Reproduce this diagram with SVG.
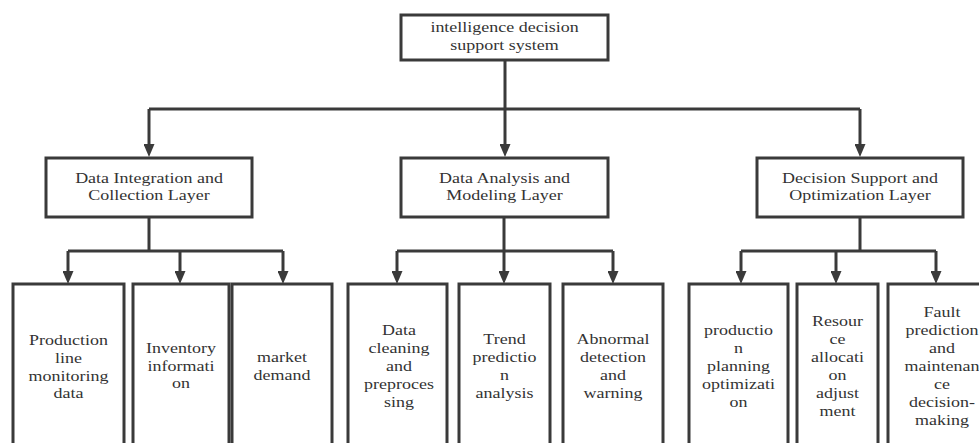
<svg xmlns="http://www.w3.org/2000/svg" width="979" height="443" viewBox="0 0 979 443">
<defs>
<style>
.box{fill:#fff;stroke:#3a3a3a;stroke-width:3}
.t{font-family:"Liberation Serif","Times New Roman",serif;font-size:14.5px;fill:#333;text-anchor:middle}
.c{fill:none;stroke:#3a3a3a;stroke-width:3}
</style>
<marker id="ah" viewBox="0 0 13 11" refX="7" refY="5.5" markerWidth="13" markerHeight="11" markerUnits="userSpaceOnUse" orient="auto">
<path d="M0,0 L13,5.5 L0,11 z" fill="#3a3a3a"/>
</marker>
</defs>
<rect width="979" height="443" fill="#fff"/>
<g id="connectors">
<path class="c" d="M505,60 V109 M149,109 H860"/>
<path class="c" d="M149,109 V151" marker-end="url(#ah)"/>
<path class="c" d="M505,109 V151" marker-end="url(#ah)"/>
<path class="c" d="M860,109 V151" marker-end="url(#ah)"/>
<path class="c" d="M149,217 V251 M68,251 H283"/>
<path class="c" d="M68,251 V278" marker-end="url(#ah)"/>
<path class="c" d="M180,251 V278" marker-end="url(#ah)"/>
<path class="c" d="M283,251 V278" marker-end="url(#ah)"/>
<path class="c" d="M504,217 V251 M397,251 H613"/>
<path class="c" d="M397,251 V278" marker-end="url(#ah)"/>
<path class="c" d="M504,251 V278" marker-end="url(#ah)"/>
<path class="c" d="M613,251 V278" marker-end="url(#ah)"/>
<path class="c" d="M860,217 V251 M741,251 H936"/>
<path class="c" d="M741,251 V278" marker-end="url(#ah)"/>
<path class="c" d="M836,251 V278" marker-end="url(#ah)"/>
<path class="c" d="M936,251 V278" marker-end="url(#ah)"/>
</g>
<g id="root">
<rect class="box" x="401" y="15" width="207" height="45"/>
<text class="t" transform="translate(504.5 0) scale(1.24 1)"><tspan x="0" y="32">intelligence decision</tspan><tspan x="0" y="50.5">support system</tspan></text>
</g>
<g id="layer1">
<rect class="box" x="46" y="158" width="206" height="59"/>
<text class="t" transform="translate(149 0) scale(1.24 1)"><tspan x="0" y="183">Data Integration and</tspan><tspan x="0" y="200.5">Collection Layer</tspan></text>
</g>
<g id="layer2">
<rect class="box" x="401" y="158" width="207" height="59"/>
<text class="t" transform="translate(504.5 0) scale(1.24 1)"><tspan x="0" y="183">Data Analysis and</tspan><tspan x="0" y="200.5">Modeling Layer</tspan></text>
</g>
<g id="layer3">
<rect class="box" x="757" y="158" width="206" height="59"/>
<text class="t" transform="translate(860 0) scale(1.24 1)"><tspan x="0" y="183">Decision Support and</tspan><tspan x="0" y="200.5">Optimization Layer</tspan></text>
</g>
<g id="n1">
<rect class="box" x="13" y="284" width="111" height="200"/>
<text class="t" transform="translate(68.5 0) scale(1.24 1)"><tspan x="0" y="345">Production</tspan><tspan x="0" y="363">line</tspan><tspan x="0" y="381">monitoring</tspan><tspan x="0" y="398.5">data</tspan></text>
</g>
<g id="n2">
<rect class="box" x="133" y="284" width="96" height="200"/>
<text class="t" transform="translate(181 0) scale(1.24 1)"><tspan x="0" y="353">Inventory</tspan><tspan x="0" y="371">informati</tspan><tspan x="0" y="388.5">on</tspan></text>
</g>
<g id="n3">
<rect class="box" x="232" y="284" width="100" height="200"/>
<text class="t" transform="translate(282 0) scale(1.24 1)"><tspan x="0" y="362">market</tspan><tspan x="0" y="380">demand</tspan></text>
</g>
<g id="n4">
<rect class="box" x="348" y="284" width="99" height="200"/>
<text class="t" transform="translate(399 0) scale(1.24 1)"><tspan x="0" y="335">Data</tspan><tspan x="0" y="353">cleaning</tspan><tspan x="0" y="371">and</tspan><tspan x="0" y="389">preproces</tspan><tspan x="0" y="407">sing</tspan></text>
</g>
<g id="n5">
<rect class="box" x="459" y="284" width="91" height="200"/>
<text class="t" transform="translate(504.5 0) scale(1.24 1)"><tspan x="0" y="344">Trend</tspan><tspan x="0" y="362">predictio</tspan><tspan x="0" y="380">n</tspan><tspan x="0" y="398">analysis</tspan></text>
</g>
<g id="n6">
<rect class="box" x="563" y="284" width="100" height="200"/>
<text class="t" transform="translate(613 0) scale(1.24 1)"><tspan x="0" y="344">Abnormal</tspan><tspan x="0" y="362">detection</tspan><tspan x="0" y="380">and</tspan><tspan x="0" y="398">warning</tspan></text>
</g>
<g id="n7">
<rect class="box" x="689" y="284" width="99" height="200"/>
<text class="t" transform="translate(738.5 0) scale(1.24 1)"><tspan x="0" y="335">productio</tspan><tspan x="0" y="353">n</tspan><tspan x="0" y="371">planning</tspan><tspan x="0" y="389">optimizati</tspan><tspan x="0" y="407">on</tspan></text>
</g>
<g id="n8">
<rect class="box" x="797" y="284" width="81" height="200"/>
<text class="t" transform="translate(837.5 0) scale(1.24 1)"><tspan x="0" y="326">Resour</tspan><tspan x="0" y="344">ce</tspan><tspan x="0" y="362">allocati</tspan><tspan x="0" y="380">on</tspan><tspan x="0" y="398">adjust</tspan><tspan x="0" y="416">ment</tspan></text>
</g>
<g id="n9">
<rect class="box" x="888" y="284" width="100" height="200"/>
<text class="t" transform="translate(942 0) scale(1.24 1)"><tspan x="0" y="317">Fault</tspan><tspan x="0" y="335">prediction</tspan><tspan x="0" y="353">and</tspan><tspan x="0" y="371">maintenan</tspan><tspan x="0" y="389">ce</tspan><tspan x="0" y="407">decision-</tspan><tspan x="0" y="425">making</tspan></text>
</g>
</svg>
